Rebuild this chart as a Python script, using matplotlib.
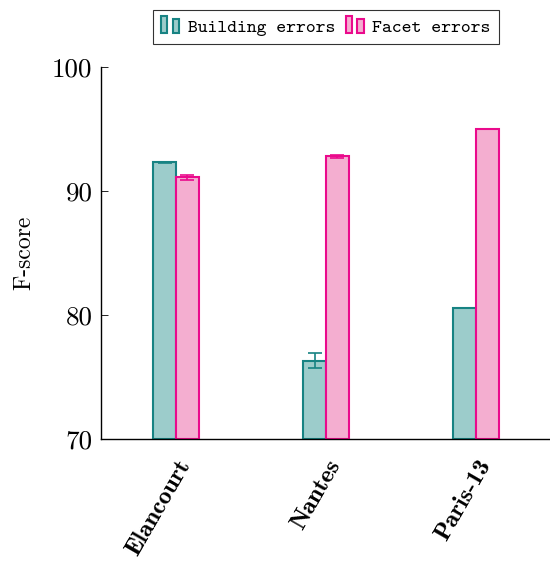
import matplotlib
matplotlib.use("Agg")
import matplotlib.pyplot as plt
import numpy as np
from matplotlib.legend_handler import HandlerBase
from matplotlib.patches import Rectangle

plt.rcParams['mathtext.fontset'] = 'cm'
plt.rcParams['font.family'] = 'serif'
plt.rcParams['font.serif'] = ['DejaVu Serif']

categories = ["Elancourt", "Nantes", "Paris-13"]
building = [92.3, 76.3, 80.6]
building_err = [0.05, 0.6, 0.0]
facet = [91.1, 92.8, 95.0]
facet_err = [0.2, 0.1, 0.0]
yticks = [70, 80, 90, 100]

b_fill, b_edge = '#9ccccb', '#178383'
f_fill, f_edge = '#f4aed0', '#ea0a8c'

fig = plt.figure(figsize=(5.5, 5.69), dpi=100)
ax = fig.add_axes([101/550, 1-439/569, 448/550, 372/569])

x = np.arange(len(categories))
w = 0.153
ax.bar(x - w/2, np.array(building) - 70, w, bottom=70, color=b_fill, edgecolor=b_edge, linewidth=1.5)
ax.bar(x + w/2, np.array(facet) - 70, w, bottom=70, color=f_fill, edgecolor=f_edge, linewidth=1.5)
ax.errorbar(x - w/2, building, yerr=building_err, fmt='none', ecolor=b_edge, elinewidth=1.2, capsize=5, capthick=1.2)
ax.errorbar(x + w/2, facet, yerr=facet_err, fmt='none', ecolor=f_edge, elinewidth=1.2, capsize=5, capthick=1.2)

ax.set_xlim(-0.5, 2.487)
ax.set_ylim(70, 100)
ax.set_yticks(yticks)
ax.set_yticklabels([str(t) for t in yticks], fontsize=19.5, family='cmr10')
ax.tick_params(axis='y', direction='in', length=5, width=0.6, pad=6)
ax.set_xticks(x)
ax.set_xticklabels(categories, rotation=60, ha='right', rotation_mode='anchor',
                   fontsize=18, family='cmb10')
ax.tick_params(axis='x', length=0, pad=12)
for s in ['top', 'right']:
    ax.spines[s].set_visible(False)
for s in ['left', 'bottom']:
    ax.spines[s].set_linewidth(1.0)
ax.set_ylabel("F-score", fontsize=17, family='cmr10', labelpad=12)


class TwoBars(HandlerBase):
    def __init__(self, fc, ec):
        super().__init__()
        self.fc, self.ec = fc, ec

    def create_artists(self, legend, orig_handle, xdescent, ydescent, width, height, fontsize, trans):
        bw = width * 0.3
        arts = []
        for i, hh in enumerate([1.0, 0.8]):
            r = Rectangle((-xdescent + i * width * 0.55, -ydescent - height * 0.1), bw, height * 1.3 * hh,
                          facecolor=self.fc, edgecolor=self.ec, linewidth=1.5, transform=trans)
            arts.append(r)
        return arts


h1 = Rectangle((0, 0), 1, 1)
h2 = Rectangle((0, 0), 1, 1)
leg = fig.legend([h1, h2], ["Building errors", "Facet errors"],
                 handler_map={h1: TwoBars(b_fill, b_edge), h2: TwoBars(f_fill, f_edge)},
                 loc='center', bbox_to_anchor=(326/550, 1-27/569), ncol=2, frameon=True,
                 fancybox=False, edgecolor='black', prop={'family': 'cmtt10', 'size': 13.5},
                 handlelength=1.1, handletextpad=0.3, columnspacing=0.6, borderpad=0.45)
leg.get_frame().set_linewidth(0.8)

fig.savefig("out.png", dpi=100)
